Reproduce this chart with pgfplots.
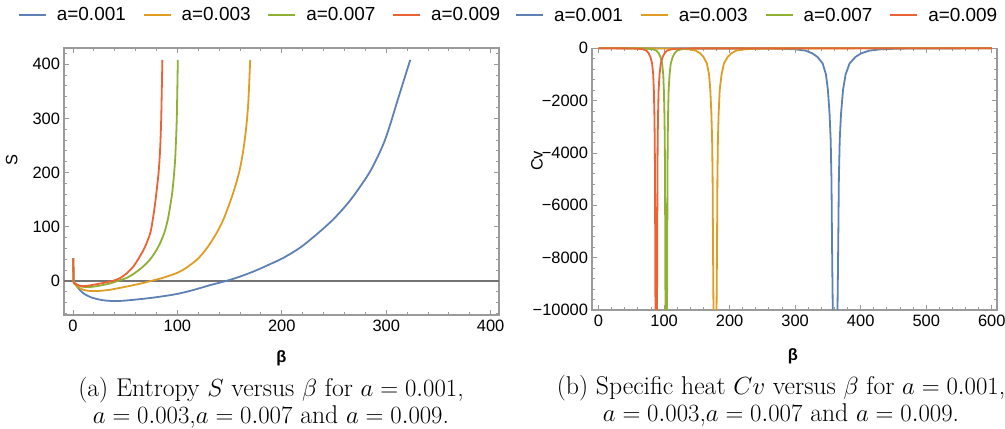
\documentclass[border=0pt]{standalone}
\usepackage{fontspec}
\usepackage{pgfplots}
\pgfplotsset{compat=1.18}
\newfontfamily\lsans{Liberation Sans}
\definecolor{mblue}{HTML}{5E81B5}
\definecolor{morange}{HTML}{E19C24}
\definecolor{mgreen}{HTML}{8FB032}
\definecolor{mred}{HTML}{EB6235}
\definecolor{framegray}{HTML}{9A9A9A}
\pgfplotsset{
 mframe/.style={
   scale only axis,
   axis line style={framegray, line width=1.1bp},
   every tick/.style={framegray, line width=0.9bp},
   major tick length=5bp, minor tick length=3bp,
   tick align=inside,
   tick pos=both, ticklabel pos=left,
   scaled ticks=false,
   /pgf/number format/assume math mode=true,
   ticklabel style={font=\lsans\fontsize{16.5}{16.5}\selectfont},
   xticklabel style={yshift=-2bp},
   yticklabel style={xshift=-0.5bp},
   label style={font=\lsans\fontsize{16.5}{16.5}\selectfont},
   every axis plot/.append style={line width=1.8bp},
   legend columns=4,
   legend style={draw=none, fill=none, inner sep=0pt, anchor=west,
     font=\lsans\fontsize{19}{19}\selectfont,
     nodes={inner sep=0pt},
     /tikz/every odd column/.append style={column sep=10bp},
     /tikz/every even column/.append style={column sep=17bp}},
 }
}
\begin{document}
\begin{tikzpicture}
\path[use as bounding box] (0,0) rectangle (1005bp,429bp);
% ---------------- (a) entropy ----------------
\begin{axis}[mframe, at={(64bp,114bp)}, anchor=south west,
  width=435bp, height=267bp,
  xmin=-8.6, xmax=408, ymin=-63, ymax=430,
  xtick={0,100,...,400},
  minor xtick={20,40,60,80,120,140,160,180,220,240,260,280,320,340,360,380},
  ytick={0,100,...,400},
  minor ytick={-60,-40,-20,20,40,60,80,120,140,160,180,220,240,260,280,320,340,360,380,420},
  xlabel={\bfseries β},
  ylabel={S},
  xlabel style={at={(axis description cs:0.5,-0.161)}, anchor=center},
  ylabel style={at={(axis description cs:-0.12,0.58)}, anchor=center, rotate=0},
  legend image code/.code={\draw[#1,line width=1.8bp] (0bp,0bp) -- (27bp,0bp);},
  legend style={at={(axis description cs:-0.106,1.1236)}},
]
\addplot[black!55, line width=1.3bp, forget plot] coordinates {(-8.6,0) (408,0)};
\addplot[mblue, smooth] coordinates {
(0.3,42) (0.6,0) (2,-6) (4,-11) (6.7,-17) (10,-23) (15,-28.5) (20,-32) (28,-35.5) (36,-37) (45,-37) (55,-35.5) (70,-32.5) (84,-29) (100,-24) (115,-17) (131,-8) (147,0) (160,8) (175,19) (190,32) (202,43) (218,62) (234,87) (250,115) (266,150) (282,194) (290,222) (298,256) (304,290) (310,328) (316,365) (323,408)};
\addlegendentry{a=0.001}
\addplot[morange, smooth] coordinates {
(0.3,42) (0.6,0) (2,-6) (5,-12) (10,-16.5) (16,-18.5) (25,-18.5) (35,-16.5) (50,-11) (60,-7) (67,-4) (75,0) (85,5) (93,10) (100,15) (106,21) (112,29) (118,38) (124,50) (131,68) (138,90) (144,113) (149,138) (153,160) (157,185) (160,208) (163,240) (166,285) (168,333) (169.7,408)};
\addlegendentry{a=0.003}
\addplot[mgreen, smooth] coordinates {
(0.3,42) (0.6,0) (2,-5) (5,-9) (8,-10.5) (15,-11.5) (25,-9) (35,-5) (43,0) (52,6) (61,17) (68,28) (74,40) (80,57) (84,72) (88,92) (91,115) (93,137) (95,162) (96.7,195) (98,230) (99.4,300) (100.4,408)};
\addlegendentry{a=0.007}
\addplot[mred, smooth] coordinates {
(0.3,42) (0.6,0) (2,-4.5) (5,-8) (9,-9.5) (14,-9) (20,-7) (30,-3.5) (38,0) (45,5) (51.5,14) (58,27) (64,45) (69,63) (73.8,87) (76,108) (78.6,142) (80.2,168) (82,200) (83.4,241) (84.5,300) (85.6,408)};
\addlegendentry{a=0.009}
\end{axis}
% ---------------- (b) specific heat ----------------
\begin{axis}[mframe, at={(592bp,119bp)}, anchor=south west,
  width=405bp, height=261.7bp,
  xmin=-10, xmax=608, ymin=-10000, ymax=0,
  clip=false, unbounded coords=jump,
  xtick={0,100,...,600},
  minor xtick={20,40,60,80,120,140,160,180,220,240,260,280,320,340,360,380,420,440,460,480,520,540,560,580},
  ytick={-10000,-8000,-6000,-4000,-2000,0},
  yticklabels={−10000,−8000,−6000,−4000,−2000,0},
  minor ytick={-9600,-9200,-8800,-8400,-7600,-7200,-6800,-6400,-5600,-5200,-4800,-4400,-3600,-3200,-2800,-2400,-1600,-1200,-800,-400},
  xlabel={\bfseries β},
  ylabel={Cv},
  xlabel style={at={(axis description cs:0.496,-0.178)}, anchor=center},
  ylabel style={at={(axis description cs:-0.136,0.57)}, anchor=center, rotate=0},
  legend image code/.code={\draw[#1,line width=1.8bp] (0bp,0bp) -- (27bp,0bp);},
  legend style={at={(axis description cs:-0.19,1.126)}},
]
\addplot[mblue] coordinates {
(0,0) (211,-3) (261,-8) (281,-18) (301,-40) (316,-90) (326,-190) (334,-330) (342,-580) (347,-1000) (350,-1600) (352.5,-2500) (354.2,-3500) (355.4,-5000) (356.2,-7300) (356.8,-8700) (357.4,-10000)
(361,nan)
(364.6,-10000) (365.2,-8700) (365.8,-7300) (366.7,-5000) (368,-3500) (370,-2500) (373,-1600) (377,-1000) (383,-580) (392,-330) (401,-190) (413,-90) (430,-40) (452,-18) (475,-8) (530,-3) (600,0)};
\addlegendentry{a=0.001}
\addplot[morange] coordinates {
(0,0) (80.2,-3) (112.7,-8) (125.7,-18) (138.7,-40) (148.45,-90) (154.95,-190) (160.15,-330) (165.35,-580) (168.6,-1000) (170.55,-1600) (172.17,-2500) (173.28,-3500) (174.06,-5000) (174.58,-7300) (174.97,-8700) (175.36,-10000)
(177.7,nan)
(180.04,-10000) (180.43,-8700) (180.82,-7300) (181.34,-5000) (182.12,-3500) (183.23,-2500) (184.85,-1600) (187.7,-1000) (191.3,-580) (197,-330) (202.7,-190) (209.9,-90) (222.6,-40) (237.5,-18) (252.5,-8) (289.8,-3) (600,0)};
\addlegendentry{a=0.003}
\addplot[mgreen] coordinates {
(0,0) (53.8,-3) (70.3,-8) (76.9,-18) (83.5,-40) (88.45,-90) (91.75,-190) (94.39,-330) (97.03,-580) (98.68,-1000) (99.67,-1600) (100.5,-2500) (101.06,-3500) (101.45,-5000) (101.72,-7300) (101.91,-8700) (102.11,-10000)
(103.3,nan)
(104.49,-10000) (104.69,-8700) (104.88,-7300) (105.15,-5000) (105.54,-3500) (106.1,-2500) (106.93,-1600) (108.38,-1000) (110.2,-580) (113.1,-330) (116,-190) (119.6,-90) (126.1,-40) (133.7,-18) (141.3,-8) (160.2,-3) (600,0)};
\addlegendentry{a=0.007}
\addplot[mred] coordinates {
(0,0) (38.5,-3) (55,-8) (61.6,-18) (68.2,-40) (73.15,-90) (76.45,-190) (79.09,-330) (81.73,-580) (83.38,-1000) (84.37,-1600) (85.2,-2500) (85.76,-3500) (86.15,-5000) (86.42,-7300) (86.61,-8700) (86.81,-10000)
(88,nan)
(89.19,-10000) (89.39,-8700) (89.58,-7300) (89.85,-5000) (90.24,-3500) (90.8,-2500) (91.63,-1600) (93.08,-1000) (94.9,-580) (97.8,-330) (100.7,-190) (104.3,-90) (110.8,-40) (118.4,-18) (126,-8) (144.9,-3) (600,0)};
\addlegendentry{a=0.009}
\end{axis}
% captions
\node[align=center, font=\fontsize{25.8}{27}\selectfont] at (271bp,26bp)
  {(a) Entropy $S$ versus $\beta$ for $a = 0.001$,\\ $a = 0.003$,$a = 0.007$ and $a = 0.009$.};
\node[align=center, font=\fontsize{25.8}{27}\selectfont] at (781bp,28bp)
  {(b) Specific heat $Cv$ versus $\beta$ for $a = 0.001$,\\ $a = 0.003$,$a = 0.007$ and $a = 0.009$.};
\end{tikzpicture}
\end{document}
